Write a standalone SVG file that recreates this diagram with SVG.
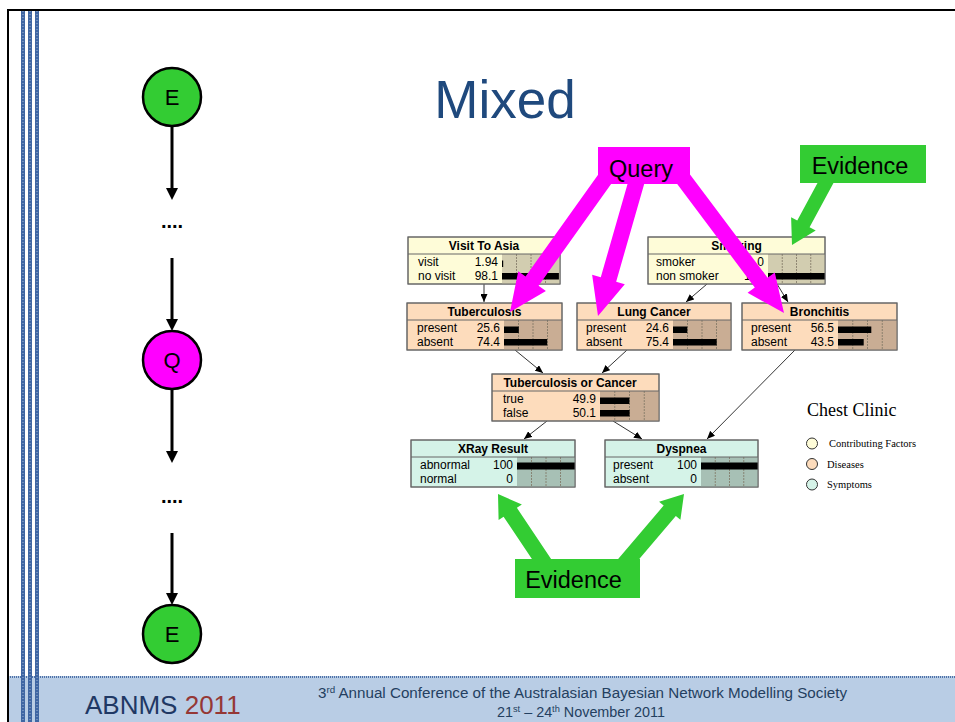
<svg xmlns="http://www.w3.org/2000/svg" width="955" height="722" viewBox="0 0 955 722">
<defs>
<marker id="ah" markerUnits="userSpaceOnUse" markerWidth="8" markerHeight="7" refX="8" refY="3.5" orient="auto"><path d="M0,0 L8,3.5 L0,7 z" fill="#000"/></marker>
</defs>
<style>
.t{font-family:"Liberation Sans",Arial,sans-serif;font-size:12px;fill:#000}
.tb{font-family:"Liberation Sans",Arial,sans-serif;font-size:12px;font-weight:bold;fill:#000;text-anchor:middle}
.v{font-family:"Liberation Sans",Arial,sans-serif;font-size:12px;fill:#000;text-anchor:end}
.box{stroke:#666;stroke-width:1}
.y{fill:#fefcd8}.o{fill:#fddcbc}.m{fill:#d5f3e8}
.yb{fill:#d2cdb0}.ob{fill:#c9ad94}.mb{fill:#a7c0b5}
.g{stroke:#7d7563;stroke-width:0.8;stroke-dasharray:2,1}
.sep{stroke:#666;stroke-width:1}
.conn{stroke:#000;stroke-width:0.8;fill:none;marker-end:url(#ah)}
.circ{stroke:#000;stroke-width:2.5}
.ct{font-family:"Liberation Sans",Arial,sans-serif;font-size:22px;text-anchor:middle;fill:#000}
.dots{font-family:"Liberation Sans",Arial,sans-serif;font-size:20px;font-weight:bold;text-anchor:middle;fill:#000}
.lbl{font-family:"Liberation Sans",Arial,sans-serif;font-size:23.5px;text-anchor:middle;fill:#000}
.leg{font-family:"Liberation Serif","Times New Roman",serif;font-size:10.5px;fill:#000}
</style>
<rect x="0" y="0" width="955" height="722" fill="#fff"/>
<!-- footer band -->
<rect x="8" y="676" width="947" height="46" fill="#b9cde5"/>
<line x1="8" y1="677" x2="955" y2="677" stroke="#4f72a8" stroke-width="2" stroke-dasharray="1,1"/>
<!-- frame -->
<line x1="8" y1="10" x2="955" y2="10" stroke="#000" stroke-width="2"/>
<line x1="8" y1="9" x2="8" y2="722" stroke="#000" stroke-width="2"/>
<rect x="21" y="11" width="4" height="711" fill="#3f66a3"/>
<rect x="28" y="11" width="4" height="711" fill="#3f66a3"/>
<rect x="35" y="11" width="4" height="711" fill="#3f66a3"/>
<g stroke="#9fb6d6" stroke-width="1" stroke-dasharray="1,2">
<line x1="23" y1="11" x2="23" y2="722"/><line x1="30" y1="11" x2="30" y2="722"/><line x1="37" y1="11" x2="37" y2="722"/>
</g>
<!-- footer text -->
<text x="85" y="714" font-family="'Liberation Sans',Arial,sans-serif" font-size="26" fill="#1f3864">ABNMS <tspan fill="#953735">2011</tspan></text>
<text x="318" y="698" font-family="'Liberation Sans',Arial,sans-serif" font-size="14" fill="#243f60" textLength="529" lengthAdjust="spacingAndGlyphs">3<tspan font-size="9" dy="-5">rd</tspan><tspan dy="5"> Annual Conference of the Australasian Bayesian Network Modelling Society</tspan></text>
<text x="497" y="717" font-family="'Liberation Sans',Arial,sans-serif" font-size="14" fill="#243f60" textLength="168" lengthAdjust="spacingAndGlyphs">21<tspan font-size="9" dy="-5">st</tspan><tspan dy="5"> – 24</tspan><tspan font-size="9" dy="-5">th</tspan><tspan dy="5"> November 2011</tspan></text>
<!-- title -->
<text x="505" y="118" font-family="'Liberation Sans',Arial,sans-serif" font-size="53" fill="#1f497d" text-anchor="middle">Mixed</text>
<!-- left chain -->
<g id="chain-connectors" stroke="#000" stroke-width="3">
<line x1="172" y1="126" x2="172" y2="190"/><polygon points="166,188 178,188 172,200" fill="#000" stroke="none"/>
<line x1="172" y1="258" x2="172" y2="321"/><polygon points="166,319 178,319 172,331" fill="#000" stroke="none"/>
<line x1="172" y1="389" x2="172" y2="453"/><polygon points="166,451 178,451 172,463" fill="#000" stroke="none"/>
<line x1="172" y1="533" x2="172" y2="595"/><polygon points="166,593 178,593 172,605" fill="#000" stroke="none"/>
</g>
<g id="chain-E1"><circle cx="172" cy="97" r="29" fill="#33cc33" class="circ"/><text x="172" y="105" class="ct">E</text></g>
<text x="172" y="228" class="dots">....</text>
<g id="chain-Q"><circle cx="172" cy="360" r="29" fill="#ff00ff" class="circ"/><text x="172" y="368" class="ct">Q</text></g>
<text x="172" y="503" class="dots">....</text>
<g id="chain-E2"><circle cx="172" cy="634" r="29" fill="#33cc33" class="circ"/><text x="172" y="642" class="ct">E</text></g>
<!-- BN connectors -->
<g id="bn-connectors">
<line class="conn" x1="484" y1="284" x2="484" y2="302"/>
<line class="conn" x1="707" y1="284" x2="686" y2="302"/>
<line class="conn" x1="777" y1="284" x2="788" y2="302"/>
<line class="conn" x1="515" y1="350" x2="543" y2="373"/>
<line class="conn" x1="627" y1="350" x2="602" y2="373"/>
<line class="conn" x1="795" y1="350" x2="707" y2="439"/>
<line class="conn" x1="547" y1="421" x2="524" y2="439"/>
<line class="conn" x1="613" y1="421" x2="642" y2="439"/>
</g>
<!-- Visit To Asia -->
<g id="visit">
<rect x="408" y="237" width="152" height="47" class="box y"/>
<rect x="502" y="254" width="58" height="30" class="yb"/>
<line class="g" x1="516.5" y1="254" x2="516.5" y2="284"/><line class="g" x1="531" y1="254" x2="531" y2="284"/><line class="g" x1="545.5" y1="254" x2="545.5" y2="284"/>
<rect x="502" y="260.5" width="1.2" height="6.5" fill="#000"/>
<rect x="502" y="273" width="56.9" height="6.5" fill="#000"/>
<line class="sep" x1="408" y1="254" x2="560" y2="254"/>
<rect x="408" y="237" width="152" height="47" class="box" fill="none"/>
<text x="484" y="250" class="tb">Visit To Asia</text>
<text x="418" y="266" class="t">visit</text><text x="498" y="266" class="v">1.94</text>
<text x="418" y="280" class="t">no visit</text><text x="498" y="280" class="v">98.1</text>
</g>
<!-- Smoking -->
<g id="smoking">
<rect x="648" y="237" width="177" height="47" class="box y"/>
<rect x="768" y="254" width="57" height="30" class="yb"/>
<line class="g" x1="782.25" y1="254" x2="782.25" y2="284"/><line class="g" x1="796.5" y1="254" x2="796.5" y2="284"/><line class="g" x1="810.75" y1="254" x2="810.75" y2="284"/>
<rect x="768" y="273" width="57" height="6.5" fill="#000"/>
<line class="sep" x1="648" y1="254" x2="825" y2="254"/>
<rect x="648" y="237" width="177" height="47" class="box" fill="none"/>
<text x="736.5" y="250" class="tb">Smoking</text>
<text x="656" y="266" class="t">smoker</text><text x="764" y="266" class="v">0</text>
<text x="656" y="280" class="t">non smoker</text><text x="764" y="280" class="v">100</text>
</g>
<!-- Tuberculosis -->
<g id="tuberculosis">
<rect x="407" y="303" width="155" height="47" class="box o"/>
<rect x="504" y="320" width="58" height="30" class="ob"/>
<line class="g" x1="518.5" y1="320" x2="518.5" y2="350"/><line class="g" x1="533" y1="320" x2="533" y2="350"/><line class="g" x1="547.5" y1="320" x2="547.5" y2="350"/>
<rect x="504" y="326.5" width="14.8" height="6.5" fill="#000"/>
<rect x="504" y="339" width="43.2" height="6.5" fill="#000"/>
<line class="sep" x1="407" y1="320" x2="562" y2="320"/>
<rect x="407" y="303" width="155" height="47" class="box" fill="none"/>
<text x="484.5" y="316" class="tb">Tuberculosis</text>
<text x="417" y="332" class="t">present</text><text x="500" y="332" class="v">25.6</text>
<text x="417" y="346" class="t">absent</text><text x="500" y="346" class="v">74.4</text>
</g>
<!-- Lung Cancer -->
<g id="lungcancer">
<rect x="577" y="303" width="154" height="47" class="box o"/>
<rect x="673" y="320" width="58" height="30" class="ob"/>
<line class="g" x1="687.5" y1="320" x2="687.5" y2="350"/><line class="g" x1="702" y1="320" x2="702" y2="350"/><line class="g" x1="716.5" y1="320" x2="716.5" y2="350"/>
<rect x="673" y="326.5" width="14.3" height="6.5" fill="#000"/>
<rect x="673" y="339" width="43.7" height="6.5" fill="#000"/>
<line class="sep" x1="577" y1="320" x2="731" y2="320"/>
<rect x="577" y="303" width="154" height="47" class="box" fill="none"/>
<text x="654" y="316" class="tb">Lung Cancer</text>
<text x="586" y="332" class="t">present</text><text x="669" y="332" class="v">24.6</text>
<text x="586" y="346" class="t">absent</text><text x="669" y="346" class="v">75.4</text>
</g>
<!-- Bronchitis -->
<g id="bronchitis">
<rect x="742" y="303" width="155" height="47" class="box o"/>
<rect x="838" y="320" width="59" height="30" class="ob"/>
<line class="g" x1="852.75" y1="320" x2="852.75" y2="350"/><line class="g" x1="867.5" y1="320" x2="867.5" y2="350"/><line class="g" x1="882.25" y1="320" x2="882.25" y2="350"/>
<rect x="838" y="326.5" width="33.3" height="6.5" fill="#000"/>
<rect x="838" y="339" width="25.7" height="6.5" fill="#000"/>
<line class="sep" x1="742" y1="320" x2="897" y2="320"/>
<rect x="742" y="303" width="155" height="47" class="box" fill="none"/>
<text x="819.5" y="316" class="tb">Bronchitis</text>
<text x="751" y="332" class="t">present</text><text x="834" y="332" class="v">56.5</text>
<text x="751" y="346" class="t">absent</text><text x="834" y="346" class="v">43.5</text>
</g>
<!-- Tuberculosis or Cancer -->
<g id="torc">
<rect x="492" y="374" width="167" height="47" class="box o"/>
<rect x="600" y="391" width="59" height="30" class="ob"/>
<line class="g" x1="614.75" y1="391" x2="614.75" y2="421"/><line class="g" x1="629.5" y1="391" x2="629.5" y2="421"/><line class="g" x1="644.25" y1="391" x2="644.25" y2="421"/>
<rect x="600" y="397.5" width="29.4" height="6.5" fill="#000"/>
<rect x="600" y="410" width="29.6" height="6.5" fill="#000"/>
<line class="sep" x1="492" y1="391" x2="659" y2="391"/>
<rect x="492" y="374" width="167" height="47" class="box" fill="none"/>
<text x="570" y="387" class="tb">Tuberculosis or Cancer</text>
<text x="503" y="403" class="t">true</text><text x="596" y="403" class="v">49.9</text>
<text x="503" y="417" class="t">false</text><text x="596" y="417" class="v">50.1</text>
</g>
<!-- XRay Result -->
<g id="xray">
<rect x="411" y="440" width="164" height="47" class="box m"/>
<rect x="517" y="457" width="58" height="30" class="mb"/>
<line class="g" x1="531.5" y1="457" x2="531.5" y2="487"/><line class="g" x1="546" y1="457" x2="546" y2="487"/><line class="g" x1="560.5" y1="457" x2="560.5" y2="487"/>
<rect x="517" y="462.5" width="58" height="7" fill="#000"/>
<line class="sep" x1="411" y1="457" x2="575" y2="457"/>
<rect x="411" y="440" width="164" height="47" class="box" fill="none"/>
<text x="493" y="453" class="tb">XRay Result</text>
<text x="420" y="469" class="t">abnormal</text><text x="513" y="469" class="v">100</text>
<text x="420" y="483" class="t">normal</text><text x="513" y="483" class="v">0</text>
</g>
<!-- Dyspnea -->
<g id="dyspnea">
<rect x="605" y="440" width="153" height="47" class="box m"/>
<rect x="701" y="457" width="57" height="30" class="mb"/>
<line class="g" x1="715.25" y1="457" x2="715.25" y2="487"/><line class="g" x1="729.5" y1="457" x2="729.5" y2="487"/><line class="g" x1="743.75" y1="457" x2="743.75" y2="487"/>
<rect x="701" y="462.5" width="57" height="7" fill="#000"/>
<line class="sep" x1="605" y1="457" x2="758" y2="457"/>
<rect x="605" y="440" width="153" height="47" class="box" fill="none"/>
<text x="681.5" y="453" class="tb">Dyspnea</text>
<text x="613" y="469" class="t">present</text><text x="697" y="469" class="v">100</text>
<text x="613" y="483" class="t">absent</text><text x="697" y="483" class="v">0</text>
</g>
<!-- legend -->
<g id="legend">
<text x="807" y="416" font-family="'Liberation Serif','Times New Roman',serif" font-size="18" fill="#000">Chest Clinic</text>
<circle cx="812" cy="443.5" r="5.5" fill="#fefcd8" stroke="#333" stroke-width="1"/>
<circle cx="812" cy="464" r="5.5" fill="#fddcbc" stroke="#333" stroke-width="1"/>
<circle cx="812" cy="484.5" r="5.5" fill="#d5f3e8" stroke="#333" stroke-width="1"/>
<text x="829" y="447" class="leg">Contributing Factors</text>
<text x="827" y="467.5" class="leg">Diseases</text>
<text x="827" y="488" class="leg">Symptoms</text>
</g>
<!-- Query arrows -->
<g id="query-arrows" fill="#ff00ff">
<polygon transform="translate(510,312) rotate(125.5)" points="0,0 -38,-17 -38,-8 -185,-8 -185,8 -38,8 -38,17"/>
<polygon transform="translate(598,316) rotate(106)" points="0,0 -38,-17 -38,-8 -160,-8 -160,8 -38,8 -38,17"/>
<polygon transform="translate(784,313) rotate(53.1)" points="0,0 -38,-17 -38,-8 -185,-8 -185,8 -38,8 -38,17"/>
</g>
<g id="query"><rect x="598" y="147" width="92" height="37" fill="#ff00ff"/><text x="641" y="177" class="lbl">Query</text></g>
<!-- Evidence arrows -->
<g id="evidence-arrows" fill="#33cc33">
<polygon transform="translate(792,245) rotate(118.4)" points="0,0 -24,-14 -24,-7 -95,-7 -95,7 -24,7 -24,14"/>
<polygon transform="translate(498,494) rotate(-123.8)" points="0,0 -22,-14 -22,-8 -100,-8 -100,8 -22,8 -22,14"/>
<polygon transform="translate(684,494) rotate(-49.6)" points="0,0 -22,-14 -22,-8 -108,-8 -108,8 -22,8 -22,14"/>
</g>
<g id="evidence-top"><rect x="800" y="145" width="126" height="38" fill="#33cc33"/><text x="860" y="174" class="lbl">Evidence</text></g>
<g id="evidence-bottom"><rect x="515" y="559" width="125" height="39" fill="#33cc33"/><text x="573.5" y="588" class="lbl">Evidence</text></g>
</svg>
